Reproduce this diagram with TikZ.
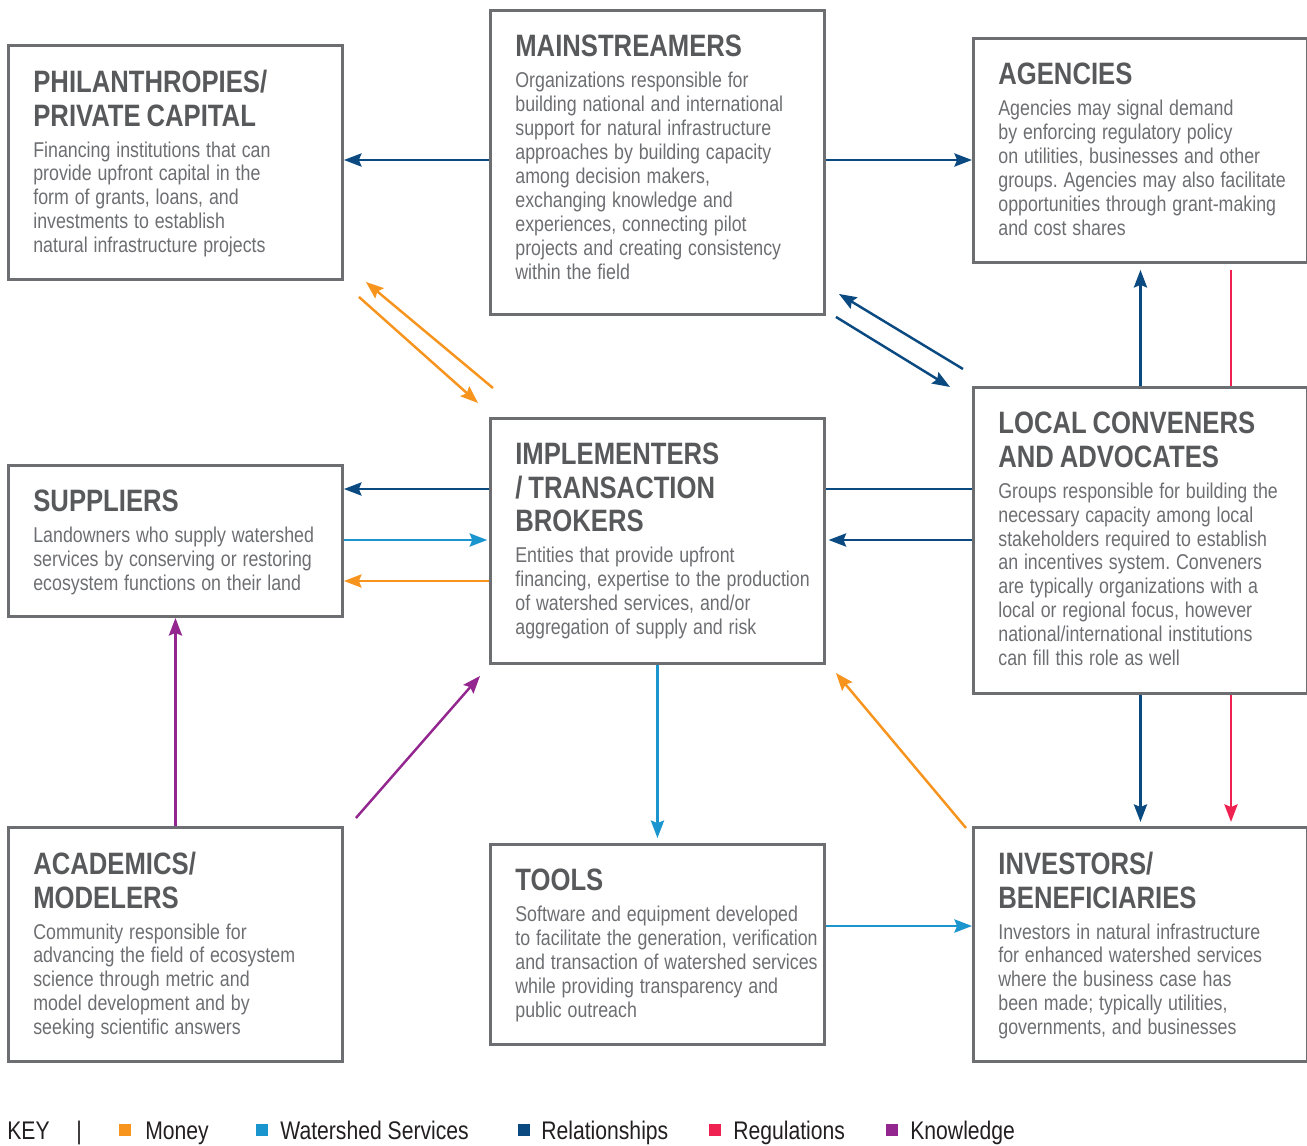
\documentclass[tikz,border=0pt]{standalone}
\usepackage{fontspec}
\setmainfont{Liberation Sans}[FakeStretch=0.83]
\usetikzlibrary{arrows.meta,positioning,calc}
\definecolor{money}{HTML}{F7941D}
\definecolor{water}{HTML}{1B95CE}
\definecolor{relat}{HTML}{0B4A80}
\definecolor{regul}{HTML}{EE2150}
\definecolor{knowl}{HTML}{93278F}
\definecolor{boxgray}{HTML}{6D6E71}
\definecolor{ttlgray}{HTML}{58595B}
\definecolor{txtgray}{HTML}{6D6E71}
\definecolor{keyblack}{HTML}{231F20}
\frenchspacing
\newcommand{\ttlfont}{\fontsize{17.6}{19}\selectfont\bfseries\color{ttlgray}}
\newcommand{\bdyfont}{\fontsize{12.2}{13.6}\selectfont\color{txtgray}}
\newcommand{\actor}[2]{{\ttlfont #1\par}\vspace{4pt}{\bdyfont #2\par}}
\tikzset{
    actorbox/.style={draw=boxgray, line width=1.7pt, rectangle, minimum width=6.68cm, anchor=north west, inner sep=0pt},
    actortxt/.style={anchor=north west, inner sep=0pt, text width=7cm, align=left},
    flow/.style={line width=1.4pt, -{Stealth[length=10pt,width=7.5pt,inset=1.5pt]}},
    keytxt/.style={font=\fontsize{14.5}{16}\selectfont, text=keyblack, inner sep=0pt},
    keysq/.style={rectangle, minimum size=0.24cm, inner sep=0pt}
}

\begin{document}
\begin{tikzpicture}[x=0.02cm, y=-0.02cm]
\useasboundingbox (0,0) rectangle (1307,1145); % page frame
% actor boxes
\node[actorbox, minimum height=4.68cm] (phil) at (7,44) {};
\node[actorbox, minimum height=6.08cm] (main) at (489,9) {};
\node[actorbox, minimum height=4.48cm] (agen) at (972,37) {};
\node[actorbox, minimum height=3.02cm] (supp) at (7,464) {};
\node[actorbox, minimum height=4.90cm] (impl) at (489,417) {};
\node[actorbox, minimum height=6.12cm] (local) at (972,386) {};
\node[actorbox, minimum height=4.68cm] (acad) at (7,826) {};
\node[actorbox, minimum height=4.00cm] (tools) at (489,843) {};
\node[actorbox, minimum height=4.68cm] (inv) at (972,826) {};
% box texts
\node[actortxt] (philtxt) at ([shift={(26,26)}]phil.north west) {\actor{PHILANTHROPIES/\\PRIVATE CAPITAL}{Financing institutions that can\\provide upfront capital in the\\form of grants, loans, and\\investments to establish\\natural infrastructure projects}};
\node[actortxt] (maintxt) at ([shift={(26,26)}]main.north west) {\actor{MAINSTREAMERS}{Organizations responsible for\\building national and international\\support for natural infrastructure\\approaches by building capacity\\among decision makers,\\exchanging knowledge and\\experiences, connecting pilot\\projects and creating consistency\\within the field}};
\node[actortxt] (agentxt) at ([shift={(26,26)}]agen.north west) {\actor{AGENCIES}{Agencies may signal demand\\by enforcing regulatory policy\\on utilities, businesses and other\\groups. Agencies may also facilitate\\opportunities through grant-making\\and cost shares}};
\node[actortxt] (supptxt) at ([shift={(26,26)}]supp.north west) {\actor{SUPPLIERS}{Landowners who supply watershed\\services by conserving or restoring\\ecosystem functions on their land}};
\node[actortxt] (impltxt) at ([shift={(26,26)}]impl.north west) {\actor{IMPLEMENTERS\\/ TRANSACTION\\BROKERS}{Entities that provide upfront\\financing, expertise to the production\\of watershed services, and/or\\aggregation of supply and risk}};
\node[actortxt] (localtxt) at ([shift={(26,26)}]local.north west) {\actor{LOCAL CONVENERS\\AND ADVOCATES}{Groups responsible for building the\\necessary capacity among local\\stakeholders required to establish\\an incentives system. Conveners\\are typically organizations with a\\local or regional focus, however\\national/international institutions\\can fill this role as well}};
\node[actortxt] (acadtxt) at ([shift={(26,26)}]acad.north west) {\actor{ACADEMICS/\\MODELERS}{Community responsible for\\advancing the field of ecosystem\\science through metric and\\model development and by\\seeking scientific answers}};
\node[actortxt] (toolstxt) at ([shift={(26,26)}]tools.north west) {\actor{TOOLS}{Software and equipment developed\\to facilitate the generation, verification\\and transaction of watershed services\\while providing transparency and\\public outreach}};
\node[actortxt] (invtxt) at ([shift={(26,26)}]inv.north west) {\actor{INVESTORS/\\BENEFICIARIES}{Investors in natural infrastructure\\for enhanced watershed services\\where the business case has\\been made; typically utilities,\\governments, and businesses}};
% top row
\draw[flow, relat] (main.west |- 0,160) -- (phil.east |- 0,160); % mainstreamers to philanthropies
\draw[flow, relat] (main.east |- 0,160) -- (agen.west |- 0,160); % mainstreamers to agencies
\draw[flow, money] ($(impl.north west)+(4,-29)$) -- ($(phil.south east)+(22,1)$); % money back up
\draw[flow, money] ($(phil.south east)+(15,16)$) -- ($(impl.north west)+(-11,-14)$); % money down
\draw[flow, relat] ($(local.north west)+(-9,-17)$) -- ($(main.south east)+(13,-22)$); % conveners to mainstreamers
\draw[flow, relat] ($(main.south east)+(10,1)$) -- ($(local.north west)+(-22,1)$); % mainstreamers to conveners
% middle row
\draw[flow, relat] (impl.west |- 0,489) -- (supp.east |- 0,489);
\draw[flow, water] (supp.east |- 0,540) -- ([xshift=-1pt]impl.west |- 0,540);
\draw[flow, money] (impl.west |- 0,581) -- (supp.east |- 0,581);
\draw[relat, line width=1.4pt] (impl.east |- 0,489) -- (local.west |- 0,489); % plain link
\draw[flow, relat] (local.west |- 0,540) -- ([xshift=1.5pt]impl.east |- 0,540);
\draw[flow, relat, shorten >=3.4pt] (local.north) -- (agen.south);
\draw[regul, line width=1.4pt, shorten >=3.4pt] (local.north -| 1231,0) -- (agen.south -| 1231,0); % regulation, no head
% bottom row
\draw[flow, relat, shorten >=2.3pt] (local.south) -- (inv.north);
\draw[flow, regul, shorten >=2.3pt] (local.south -| 1231,0) -- (inv.north -| 1231,0);
\draw[flow, water, shorten >=2.8pt] (impl.south) -- (tools.north);
\draw[flow, water] (tools.east |- 0,926) -- (inv.west |- 0,926);
\draw[flow, money] ($(inv.north west)+(-6,2)$) -- ($(impl.south east)+(10,8)$); % investors pay implementers
\draw[flow, knowl] (acad.north) -- (supp.south);
\draw[flow, knowl] ($(acad.north east)+(12,-8)$) -- ($(impl.south west)+(-9,11)$);
% key
\node[keytxt, anchor=base west] (key) at (7,1139) {KEY};
\node[keytxt, anchor=base] (keybar) at (79,1139) {|};
\foreach \sx/\lx/\col/\lab/\nm in {119/145/money/Money/mon, 256/280/water/Watershed Services/wat, 518/541/relat/Relationships/rel, 709/733/regul/Regulations/reg, 886/910/knowl/Knowledge/kno}{
    \node[keysq, fill=\col, anchor=south west] (sq\nm) at (\sx,1136) {};
    \node[keytxt, anchor=base west] (lab\nm) at (\lx,1139) {\lab};
}
\end{tikzpicture}
\end{document}
